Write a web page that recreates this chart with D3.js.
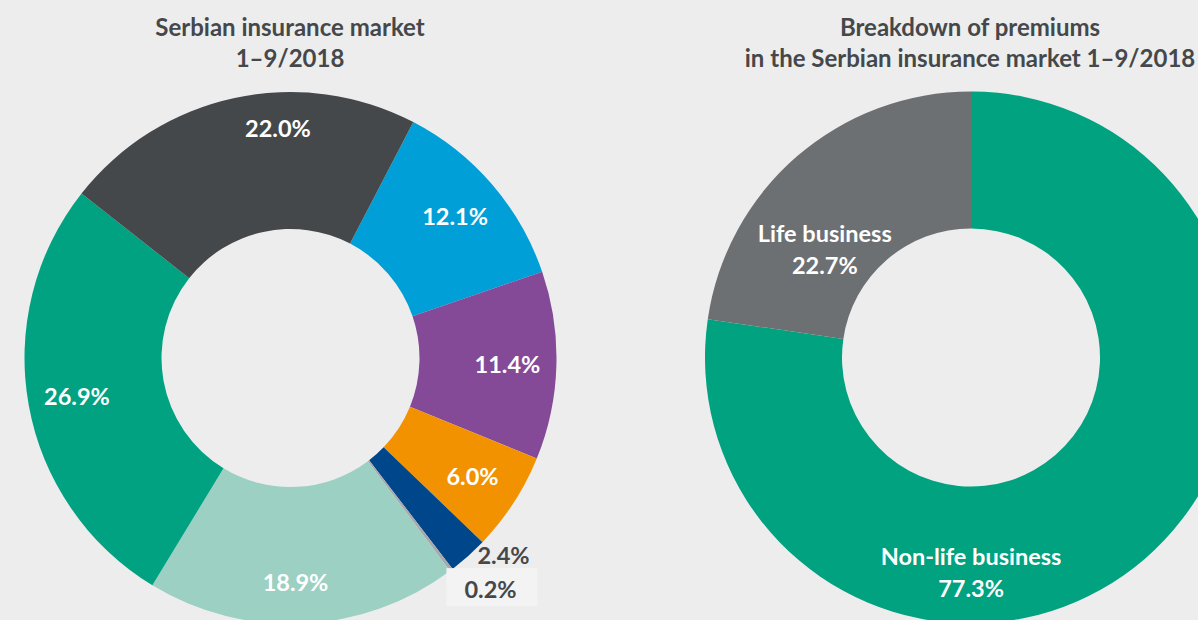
<!DOCTYPE html>
<html>
<head>
<meta charset="utf-8">
<script src="https://cdn.jsdelivr.net/npm/d3@7"></script>
<style>
  body { margin: 0; background: #ededed; }
  svg { display: block; font-family: Lato, "Open Sans", sans-serif; font-weight: 700; }
</style>
</head>
<body>
<div class="charts"></div>
<script>
const width = 1198;
const height = 620;

// left chart: market shares (clockwise from the dark-gray / blue border)
const market_names = ["blue", "purple", "orange", "navy", "gray", "lightteal", "green", "darkgray"];
const market_values = [12.1, 11.4, 6.0, 2.4, 0.2, 18.9, 26.9, 22.0];
const market_labels = ["12.1%", "11.4%", "6.0%", "2.4%", "0.2%", "18.9%", "26.9%", "22.0%"];
const market_colors = ["#019fd7", "#844a98", "#f39200", "#00468a", "#a7a9ac", "#9cd0c2", "#00a282", "#45484b"];

// right chart: life vs non-life
const split_names = ["Non-life business", "Life business"];
const split_values = [77.3, 22.7];
const split_labels = ["77.3%", "22.7%"];
const split_colors = ["#00a27f", "#6d7073"];

const title_color = "#45484b";
const outer_r = 266;
const inner_r = 129;
const label_size = "23.5px";
const deg = Math.PI / 180;

const svg = d3.select(".charts")
    .append("svg")
    .attr("width", width)
    .attr("height", height);

const arc = d3.arc().innerRadius(inner_r).outerRadius(outer_r);

// polar helper for label placement (angle measured clockwise from 12 o'clock)
function polar(a, r) {
    return [r * Math.sin(a), -r * Math.cos(a)];
}

function titles(g, lines, x) {
    g.selectAll("text.title" + x)
        .data(lines)
        .enter()
        .append("text")
        .attr("class", "title" + x)
        .attr("x", x)
        .attr("y", function(d, i) { return 36 + i * 31; })
        .attr("text-anchor", "middle")
        .attr("fill", title_color)
        .style("font-size", "24px")
        .text(function(d) { return d; });
}

/* LEFT DONUT */
const left = svg.append("g").attr("transform", "translate(290.5,358)");

const pie_left = d3.pie().sort(null).value(function(d) { return d; })
    .startAngle(27.5 * deg)
    .endAngle(27.5 * deg + 2 * Math.PI);

const arcs_left = pie_left(market_values);

left.selectAll("path")
    .data(arcs_left)
    .enter()
    .append("path")
    .attr("d", arc)
    .attr("fill", function(d, i) { return market_colors[i]; });

// inside labels: mid-angle of the slice, a touch of nudge for the top one
const nudge_left = { darkgray: [9, 230], lightteal: [1.5, 225] };

left.selectAll("text.inside")
    .data(arcs_left.filter(function(d) { return d.value >= 5; }))
    .enter()
    .append("text")
    .attr("class", "inside")
    .attr("transform", function(d) {
        const name = market_names[d.index];
        const n = nudge_left[name] || [0, 217];
        const p = polar((d.startAngle + d.endAngle) / 2 + n[0] * deg, n[1]);
        return "translate(" + p + ")";
    })
    .attr("dy", "0.36em")
    .attr("text-anchor", "middle")
    .attr("fill", "white")
    .style("font-size", label_size)
    .text(function(d) { return market_labels[d.index]; });

// small slices get their labels outside, under the navy slice
const navy = arcs_left[3];
const anchor_pt = polar(navy.startAngle, outer_r);

left.append("rect")
    .attr("x", anchor_pt[0] - 36)
    .attr("y", anchor_pt[1] + 26)
    .attr("width", 91)
    .attr("height", 38)
    .attr("fill", "#f3f3f3");

left.selectAll("text.outside")
    .data([navy, arcs_left[4]])
    .enter()
    .append("text")
    .attr("class", "outside")
    .attr("x", function(d, i) { return anchor_pt[0] - 5 - i * 13; })
    .attr("y", function(d, i) { return anchor_pt[1] + 22 + i * 34; })
    .attr("fill", title_color)
    .style("font-size", label_size)
    .text(function(d) { return market_labels[d.index]; });

titles(svg, ["Serbian insurance market", "1\u20139/2018"], 290);

/* RIGHT DONUT */
const right = svg.append("g").attr("transform", "translate(971,357.5)");

const pie_right = d3.pie().sort(null).value(function(d) { return d; });
const arcs_right = pie_right(split_values);

right.selectAll("path")
    .data(arcs_right)
    .enter()
    .append("path")
    .attr("d", arc)
    .attr("fill", function(d, i) { return split_colors[i]; });

const nudge_right = { "Non-life business": [40.85, 215], "Life business": [-12.6, 182] };

const lab_right = right.selectAll("g.lab")
    .data(arcs_right)
    .enter()
    .append("g")
    .attr("class", "lab")
    .attr("transform", function(d) {
        const n = nudge_right[split_names[d.index]];
        const p = polar((d.startAngle + d.endAngle) / 2 + n[0] * deg, n[1]);
        return "translate(" + p + ")";
    });

lab_right.append("text")
    .attr("y", -16)
    .attr("dy", "0.36em")
    .attr("text-anchor", "middle")
    .attr("fill", "white")
    .style("font-size", label_size)
    .text(function(d) { return split_names[d.index]; });

lab_right.append("text")
    .attr("y", 16)
    .attr("dy", "0.36em")
    .attr("text-anchor", "middle")
    .attr("fill", "white")
    .style("font-size", label_size)
    .text(function(d) { return split_labels[d.index]; });

titles(svg, ["Breakdown of premiums", "in the Serbian insurance market 1\u20139/2018"], 970);
</script>
</body>
</html>
